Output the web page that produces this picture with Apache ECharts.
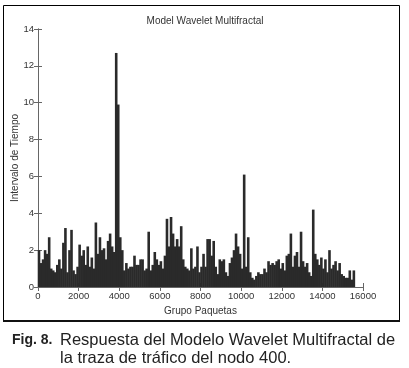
<!DOCTYPE html>
<html>
<head>
<meta charset="utf-8">
<script src="https://cdn.jsdelivr.net/npm/echarts@6/dist/echarts.min.js"></script>
<style>
html,body{margin:0;padding:0;background:#fff;}
#chart{width:409px;height:368px;}
</style>
</head>
<body>
<div id="chart"></div>
<script>
// Packet-group positions (centre of each ~100-packet bucket) and peak interval values
const bucketSize = 100;
const intervalValues = [
  2.0,1.3,1.5,2.0,1.8,2.7,1.0,0.9,0.8,1.2,
  1.5,1.0,2.4,3.2,0.8,2.0,3.1,0.9,0.7,1.1,
  2.3,1.7,2.0,1.2,2.2,1.1,1.6,1.0,3.5,1.8,
  2.7,2.0,2.1,1.5,2.5,2.9,2.2,1.9,12.7,9.9,
  2.7,2.0,0.9,1.3,1.0,1.1,1.1,1.7,1.2,1.2,
  1.5,1.5,0.9,1.0,3.0,0.9,1.2,1.9,1.5,1.2,
  1.4,1.0,1.7,3.7,2.2,3.8,2.9,2.2,2.6,2.2,
  3.3,1.5,1.1,1.0,0.9,2.1,1.0,1.1,2.2,0.8,
  1.1,1.8,1.1,2.6,2.6,1.7,2.5,1.1,0.7,1.5,
  1.4,1.5,0.8,0.6,1.3,1.6,2.0,2.9,2.2,1.8,
  1.0,6.1,1.1,2.7,0.8,0.5,0.4,0.6,0.8,0.7,
  0.7,1.0,0.8,1.4,1.2,1.3,1.2,1.4,1.5,1.0,
  1.3,0.9,1.7,1.8,2.9,1.1,1.7,1.9,1.1,3.0,
  1.4,1.1,1.3,0.8,0.6,4.2,1.8,1.5,1.2,1.6,
  1.0,1.5,0.8,2.0,1.0,1.2,1.4,0.9,1.3,0.7,
  0.6,0.5,0.5,0.9,0.4,0.9
];
const packetGroups = intervalValues.map((v, i) => i * bucketSize + bucketSize / 2);
const xTicks = [0, 2000, 4000, 6000, 8000, 10000, 12000, 14000, 16000];
const yTicks = [0, 2, 4, 6, 8, 10, 12, 14];

const chartTitle = 'Model Wavelet Multifractal';
const xName = 'Grupo Paquetas';
const yName = 'Intervalo de Tiempo';
const captionBold = 'Fig. 8.';
const captionLine1 = 'Respuesta del Modelo Wavelet Multifractal de';
const captionLine2 = 'la traza de tráfico del nodo 400.';

const FONT = '"Liberation Sans", Arial, sans-serif';
const chart = echarts.init(document.getElementById('chart'), null, {renderer: 'canvas'});

const axisCommon = {
  axisLine: {show: true, lineStyle: {color: '#666', width: 1}},
  axisTick: {show: true, inside: true, length: 4, lineStyle: {color: '#666'}},
  splitLine: {show: false}
};
const plain = v => String(v);

chart.setOption({
  backgroundColor: '#fff',
  animation: false,
  title: {
    text: chartTitle, left: 200, top: 11, textAlign: 'center',
    textStyle: {fontFamily: FONT, fontSize: 10, fontWeight: 'normal', color: '#333'}
  },
  grid: {left: 38, right: 46, top: 29, bottom: 81, containLabel: false, outerBoundsMode: 'none'},
  xAxis: [
    Object.assign({
      type: 'value', position: 'bottom',
      min: xTicks[0], max: xTicks[xTicks.length - 1], interval: xTicks[1] - xTicks[0],
      axisLabel: {fontFamily: FONT, fontSize: 9.5, color: '#333', margin: 4, formatter: plain},
      name: xName, nameLocation: 'middle', nameGap: 19, nameMoveOverlap: false,
      nameTextStyle: {fontFamily: FONT, fontSize: 10, color: '#333'}
    }, axisCommon),
    Object.assign({
      type: 'value', position: 'top',
      min: xTicks[0], max: xTicks[xTicks.length - 1], interval: xTicks[1] - xTicks[0],
      axisLabel: {show: false}
    }, axisCommon)
  ],
  yAxis: [
    Object.assign({
      type: 'value', position: 'left',
      min: yTicks[0], max: yTicks[yTicks.length - 1], interval: yTicks[1] - yTicks[0],
      axisLabel: {fontFamily: FONT, fontSize: 9.5, color: '#333', margin: 4, formatter: plain},
      name: yName, nameLocation: 'middle', nameGap: 18, nameRotate: 90, nameMoveOverlap: false,
      nameTextStyle: {fontFamily: FONT, fontSize: 10, color: '#333'}
    }, axisCommon),
    Object.assign({
      type: 'value', position: 'right',
      min: yTicks[0], max: yTicks[yTicks.length - 1], interval: yTicks[1] - yTicks[0],
      axisLabel: {show: false}
    }, axisCommon)
  ],
  series: [{
    type: 'bar',
    xAxisIndex: 0, yAxisIndex: 0,
    barWidth: 2.6,
    itemStyle: {color: '#2a2a2a'},
    data: packetGroups.map((x, i) => [x, intervalValues[i]]),
    clip: true
  }],
  graphic: [
    {type: 'rect', shape: {x: 3.5, y: 5.5, width: 396, height: 315}, style: {fill: null, stroke: '#000', lineWidth: 1}, silent: true},
    {type: 'line', shape: {x1: 3, y1: 321, x2: 400, y2: 321}, style: {stroke: '#111', lineWidth: 2}, silent: true},
    {type: 'text', left: 12, top: 333, style: {text: captionBold, font: 'bold 14px ' + FONT, fill: '#222'}},
    {type: 'text', left: 60, top: 332, style: {text: captionLine1, font: '16.5px ' + FONT, fill: '#222'}},
    {type: 'text', left: 60, top: 350, style: {text: captionLine2, font: '16.5px ' + FONT, fill: '#222'}}
  ]
});
</script>
</body>
</html>
